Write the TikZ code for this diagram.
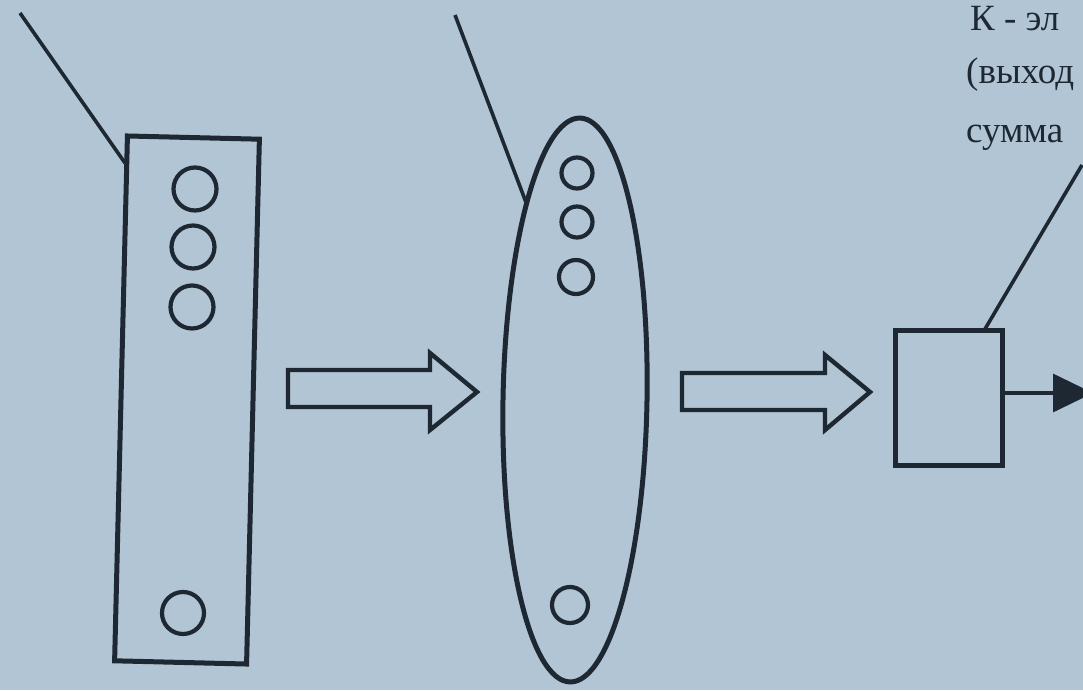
\documentclass[tikz,border=0pt]{standalone}
\usepackage{fontspec}
\setmainfont{Liberation Serif}
\usetikzlibrary{shapes.geometric,arrows.meta}
\definecolor{bgcol}{RGB}{178,197,212}
\definecolor{ink}{RGB}{30,40,50}
\tikzset{
  outline/.style={draw=ink,line width=5pt},
  cell/.style={circle,draw=ink,line width=4.2pt,inner sep=0pt},
  leader/.style={draw=ink,line width=3.6pt},
  hollowarrow/.style={draw=ink,line width=4.4pt,line join=miter},
  lbl/.style={anchor=base west,inner sep=0pt,text=ink,font=\fontsize{37}{40}\selectfont}
}
\begin{document}
\begin{tikzpicture}[x=1pt,y=-1pt]
\useasboundingbox (0,0) rectangle (1083,690);
\fill[bgcol] (0,0) rectangle (1083,690);
\clip (0,0) rectangle (1083,690);

% input layer (rectangle)
\node[outline,rectangle,minimum width=132pt,minimum height=525pt,rotate=-1.4,inner sep=0pt] (inp) at (187,400) {};
\node[cell,minimum size=43pt] (i1) at (195,189) {};
\node[cell,minimum size=43pt] (i2) at (193,247) {};
\node[cell,minimum size=43pt] (i3) at (192,307) {};
\node[cell,minimum size=42pt] (i4) at (183,613) {};

% hidden layer (ellipse)
\node[outline,ellipse,minimum width=144pt,minimum height=564pt,rotate=-1,inner sep=0pt] (hid) at (575,400) {};
\node[cell,minimum size=31pt] (h1) at (577,173) {};
\node[cell,minimum size=31pt] (h2) at (577,222) {};
\node[cell,minimum size=34pt] (h3) at (576,277) {};
\node[cell,minimum size=36pt] (h4) at (570,605) {};

% output element
\node[outline,rectangle,minimum width=107pt,minimum height=135pt,inner sep=0pt] (sq) at (948.5,397.5) {};

% hollow arrows
\draw[hollowarrow] (288,370) -- (430,370) -- (430,353) -- (477,392) -- (430,430) -- (430,407) -- (288,407) -- cycle;
\draw[hollowarrow] (682,373) -- (825,373) -- (825,355) -- (870,392) -- (825,430) -- (825,410) -- (682,410) -- cycle;

% output line with filled arrowhead
\coordinate (outend) at (1093,393);
\draw[draw=ink,line width=3.4pt,-{Triangle[length=40pt,width=38pt]}] (sq.east |- 0,393) -- (outend);

% leader lines
\coordinate (l1) at (20,13);
\coordinate (l1e) at (125,163);
\draw[leader] (l1) -- (l1e);
\coordinate (l2) at (455,15);
\coordinate (l2e) at (527,205);
\draw[leader] (l2) -- (l2e);
\coordinate (l3) at (1082,165);
\coordinate (l3e) at (985,329);
\draw[leader] (l3) -- (l3e);

% label fragments visible at the right edge
\node[lbl] (t1) at (970,31) {К - эл};
\node[lbl] (t2) at (966,84) {(выход};
\node[lbl] (t3) at (966,142) {сумма};
\end{tikzpicture}
\end{document}
